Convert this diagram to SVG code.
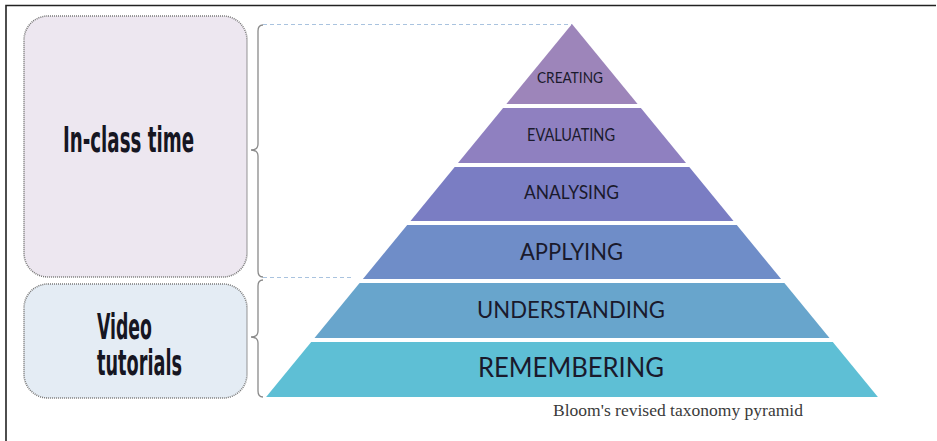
<svg xmlns="http://www.w3.org/2000/svg" width="937" height="441" viewBox="0 0 937 441">
<style>
.frame{stroke:#222;stroke-width:1.6;fill:none}
.box{stroke:#7a7a7a;stroke-width:1.6;stroke-dasharray:1 1}
.boxtxt{font-family:"Liberation Sans Narrow","DejaVu Sans Condensed","Liberation Sans",sans-serif;font-weight:bold;fill:#161622}
.brace{fill:none;stroke:#8a8a8a;stroke-width:1.3}
.dash{stroke:#a9c3df;stroke-width:1.2;stroke-dasharray:4 3;fill:none}
.lvl{font-family:Lato,"Liberation Sans",sans-serif;fill:#1a1a2c;text-anchor:start}
.cap{font-family:"Liberation Serif",serif;fill:#3a3a3a;font-size:16.5px}
</style>
<rect width="937" height="441" fill="#fff"/>
<path class="frame" d="M6 441 V5.5 H936"/>

<g id="node-inclass">
<rect class="box" x="24" y="16" width="223" height="261" rx="24" fill="#ede7f0"/>
<text class="boxtxt" x="63" y="152" font-size="36" textLength="131" lengthAdjust="spacingAndGlyphs">In-class time</text>
</g>
<g id="node-video">
<rect class="box" x="24" y="284" width="223" height="114" rx="24" fill="#e4ecf4"/>
<text class="boxtxt" x="97" y="339" font-size="35" textLength="55" lengthAdjust="spacingAndGlyphs">Video</text>
<text class="boxtxt" x="97" y="375" font-size="35" textLength="85" lengthAdjust="spacingAndGlyphs">tutorials</text>
</g>

<g id="connectors">
<path class="brace" d="M263 25 Q258 25 258 31 V144 Q258 150 251 150 Q258 150 258 156 V271 Q258 277 263 277"/>
<path class="brace" d="M263 280 Q258 280 258 286 V331 Q258 337 251 337 Q258 337 258 343 V391 Q258 397 263 397"/>
<path class="dash" d="M263 24.5 H572"/>
<path class="dash" d="M263 277.5 H354"/>
</g>

<g id="node-creating">
<polygon points="572,24 637.6,104 506.4,104" fill="#9d85ba"/>
<text class="lvl" x="537" y="83" font-size="15" textLength="66" lengthAdjust="spacingAndGlyphs">CREATING</text>
</g>
<g id="node-evaluating">
<polygon points="503.1,108 640.9,108 686,163 458,163" fill="#8f80c0"/>
<text class="lvl" x="527" y="141" font-size="17" textLength="88" lengthAdjust="spacingAndGlyphs">EVALUATING</text>
</g>
<g id="node-analysing">
<polygon points="454.7,167 689.3,167 733.5,221 410.5,221" fill="#7a7dc3"/>
<text class="lvl" x="524" y="199" font-size="19" textLength="95" lengthAdjust="spacingAndGlyphs">ANALYSING</text>
</g>
<g id="node-applying">
<polygon points="407.2,225 736.8,225 781.1,279 362.9,279" fill="#6f8dc8"/>
<text class="lvl" x="520" y="260" font-size="23" textLength="103" lengthAdjust="spacingAndGlyphs">APPLYING</text>
</g>
<g id="node-understanding">
<polygon points="359.6,283 784.4,283 829.5,338 314.5,338" fill="#68a5cc"/>
<text class="lvl" x="477" y="318" font-size="23" textLength="188" lengthAdjust="spacingAndGlyphs">UNDERSTANDING</text>
</g>
<g id="node-remembering">
<polygon points="311.2,342 832.8,342 877.9,397 266.1,397" fill="#5ebfd5"/>
<text class="lvl" x="478" y="377" font-size="26" textLength="186" lengthAdjust="spacingAndGlyphs">REMEMBERING</text>
</g>

<text class="cap" x="553" y="416" textLength="250" lengthAdjust="spacingAndGlyphs">Bloom's revised taxonomy pyramid</text>
</svg>
